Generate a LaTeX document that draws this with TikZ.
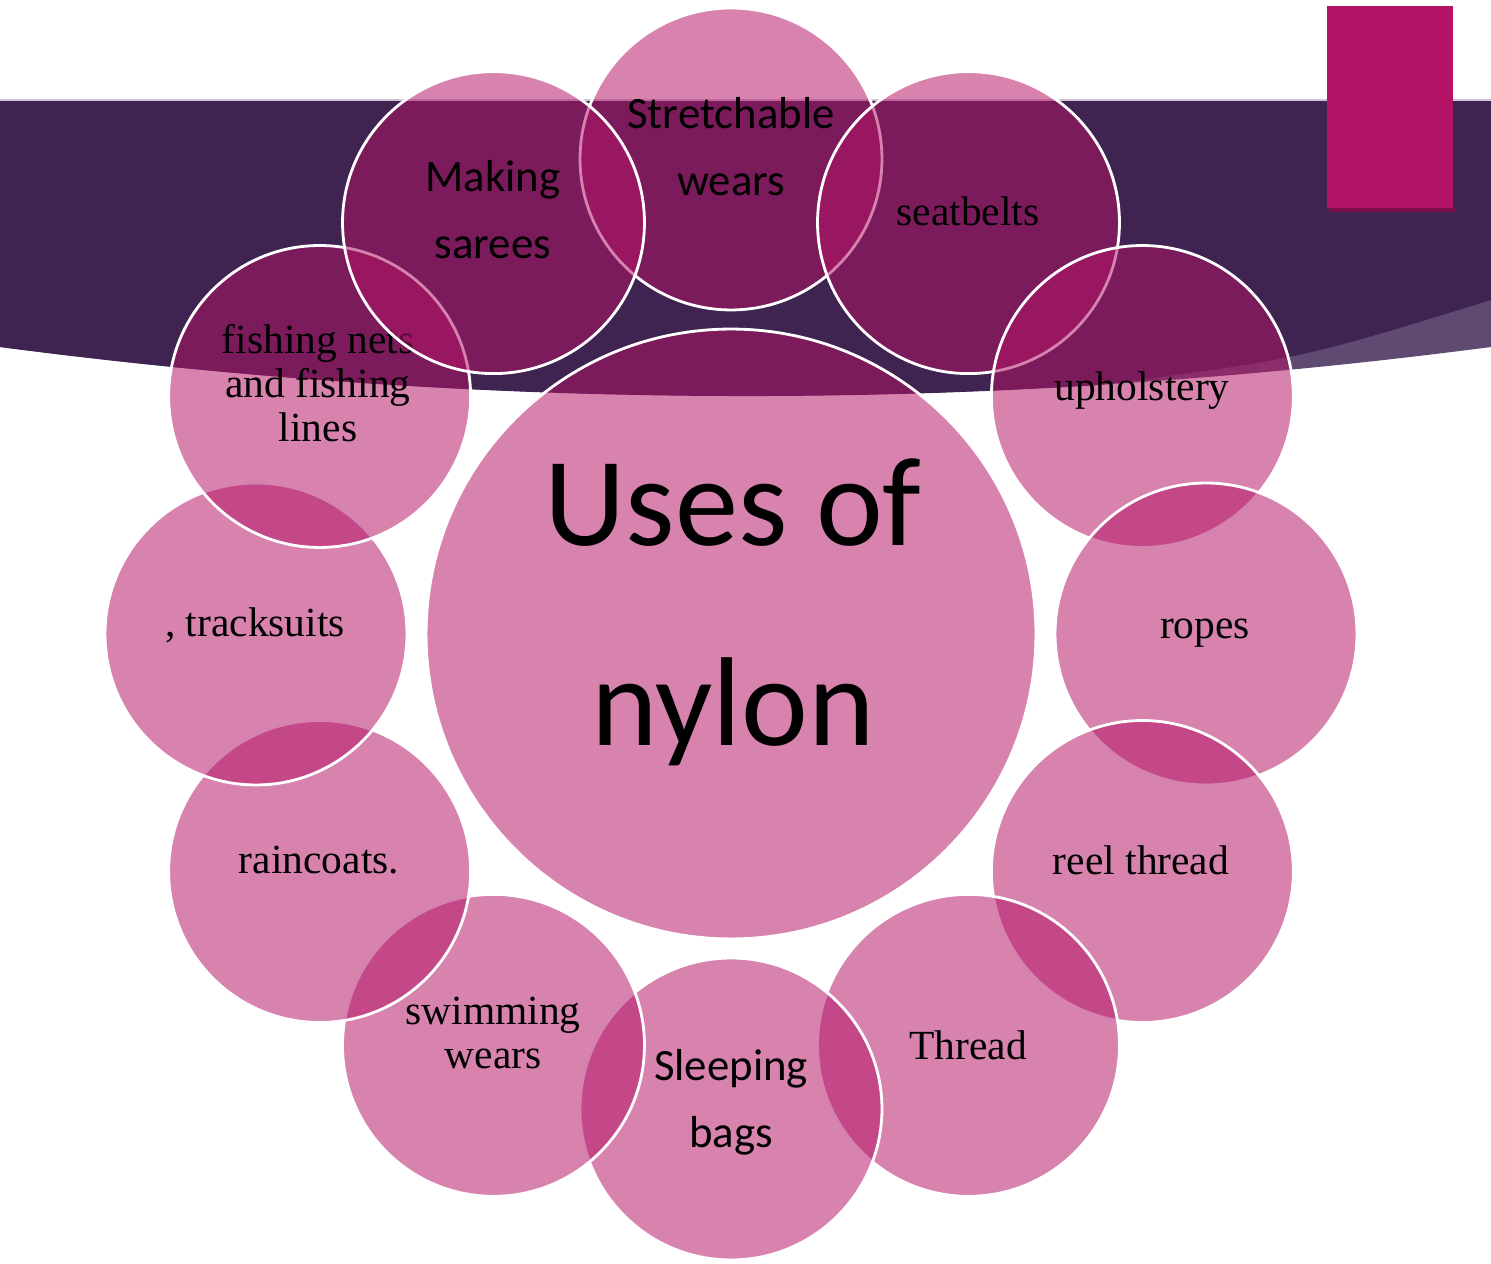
\documentclass[tikz,border=0pt]{standalone}
\usepackage{fontspec}
\setmainfont{Liberation Serif}
\newfontfamily\sanscal{Carlito}
\usetikzlibrary{calc}

\definecolor{bannerpurple}{HTML}{3F2452}
\definecolor{bannerlight}{HTML}{5F4A72}
\definecolor{bannerline}{HTML}{CFC4D8}
\definecolor{nylonpink}{HTML}{B31466}

\begin{document}
\begin{tikzpicture}[x=0.02cm, y=0.02cm,
	petal/.style={circle, draw=white, line width=1.6pt, fill=nylonpink, fill opacity=0.53, draw opacity=1, text opacity=1, minimum size=6.04cm, inner sep=0pt},
	hub/.style={petal, minimum size=12.2cm},
	serifword/.style={font=\fontsize{23.6pt}{25pt}\selectfont, align=center, text=black, text opacity=1},
	sansword/.style={font=\sanscal\fontsize{25.5pt}{38pt}\selectfont, align=center, text=black, text opacity=1},
	hubword/.style={font=\sanscal\fontsize{72pt}{114pt}\selectfont, align=center, text=black, text opacity=1}]
	\useasboundingbox (0,0) rectangle (1491,1264);

	% banner across the top
	\fill[bannerlight] (0,1164) -- (1491,1164) -- (1491,917) .. controls (994,852) and (497,852) .. (0,917) -- cycle;
	\fill[bannerpurple] (0,1164) -- (1491,1164) -- (1491,964) .. controls (1300,905) .. (1100,879) .. controls (733,856) and (367,869) .. (0,917) -- cycle;
	\draw[bannerline, line width=0.8pt] (0,1164) -- (1491,1164);

	% magenta block, top right
	\fill[nylonpink!70!black] (1329,1052) rectangle (1455,1057);
	\fill[nylonpink] (1327,1258) rectangle (1453,1056);

	% centre
	\node[hub] (hub) at (731,630) {};
	\node[hubword] (hub-txt) at (733,652) {Uses of\\nylon};

	% petals, clockwise from the top
	\node[petal] (stretch) at ($(hub)+(90:475)$) {};
	\node[sansword] (stretch-txt) at (731,1117) {Stretchable\\wears};
	\node[petal] (belts) at ($(hub)+(60:475)$) {};
	\node[serifword] (belts-txt) at (968,1053) {seatbelts};
	\node[petal] (uphol) at ($(hub)+(30:475)$) {};
	\node[serifword] (uphol-txt) at (1142,873) {upholstery};
	\node[petal] (ropes) at ($(hub)+(0:475)$) {};
	\node[serifword] (ropes-txt) at (1205,631) {ropes};
	\node[petal] (reel) at ($(hub)+(-30:475)$) {};
	\node[serifword] (reel-txt) at (1141,404) {reel thread};
	\node[petal] (thread) at ($(hub)+(-60:475)$) {};
	\node[serifword] (thread-txt) at (968,219) {Thread};
	\node[petal] (sleep) at ($(hub)+(-90:475)$) {};
	\node[sansword] (sleep-txt) at (731,162) {Sleeping\\bags};
	\node[petal] (swim) at ($(hub)+(-120:475)$) {};
	\node[serifword] (swim-txt) at (493,231) {swimming\\wears};
	\node[petal] (rain) at ($(hub)+(-150:475)$) {};
	\node[serifword] (rain-txt) at (319,404) {raincoats.};
	\node[petal] (track) at ($(hub)+(180:475)$) {};
	\node[serifword] (track-txt) at (255,639) {, tracksuits};
	\node[petal] (fish) at ($(hub)+(150:475)$) {};
	\node[serifword] (fish-txt) at (318,881) {fishing nets\\and fishing\\lines};
	\node[petal] (sarees) at ($(hub)+(120:475)$) {};
	\node[sansword] (sarees-txt) at (493,1054) {Making\\sarees};
\end{tikzpicture}
\end{document}
